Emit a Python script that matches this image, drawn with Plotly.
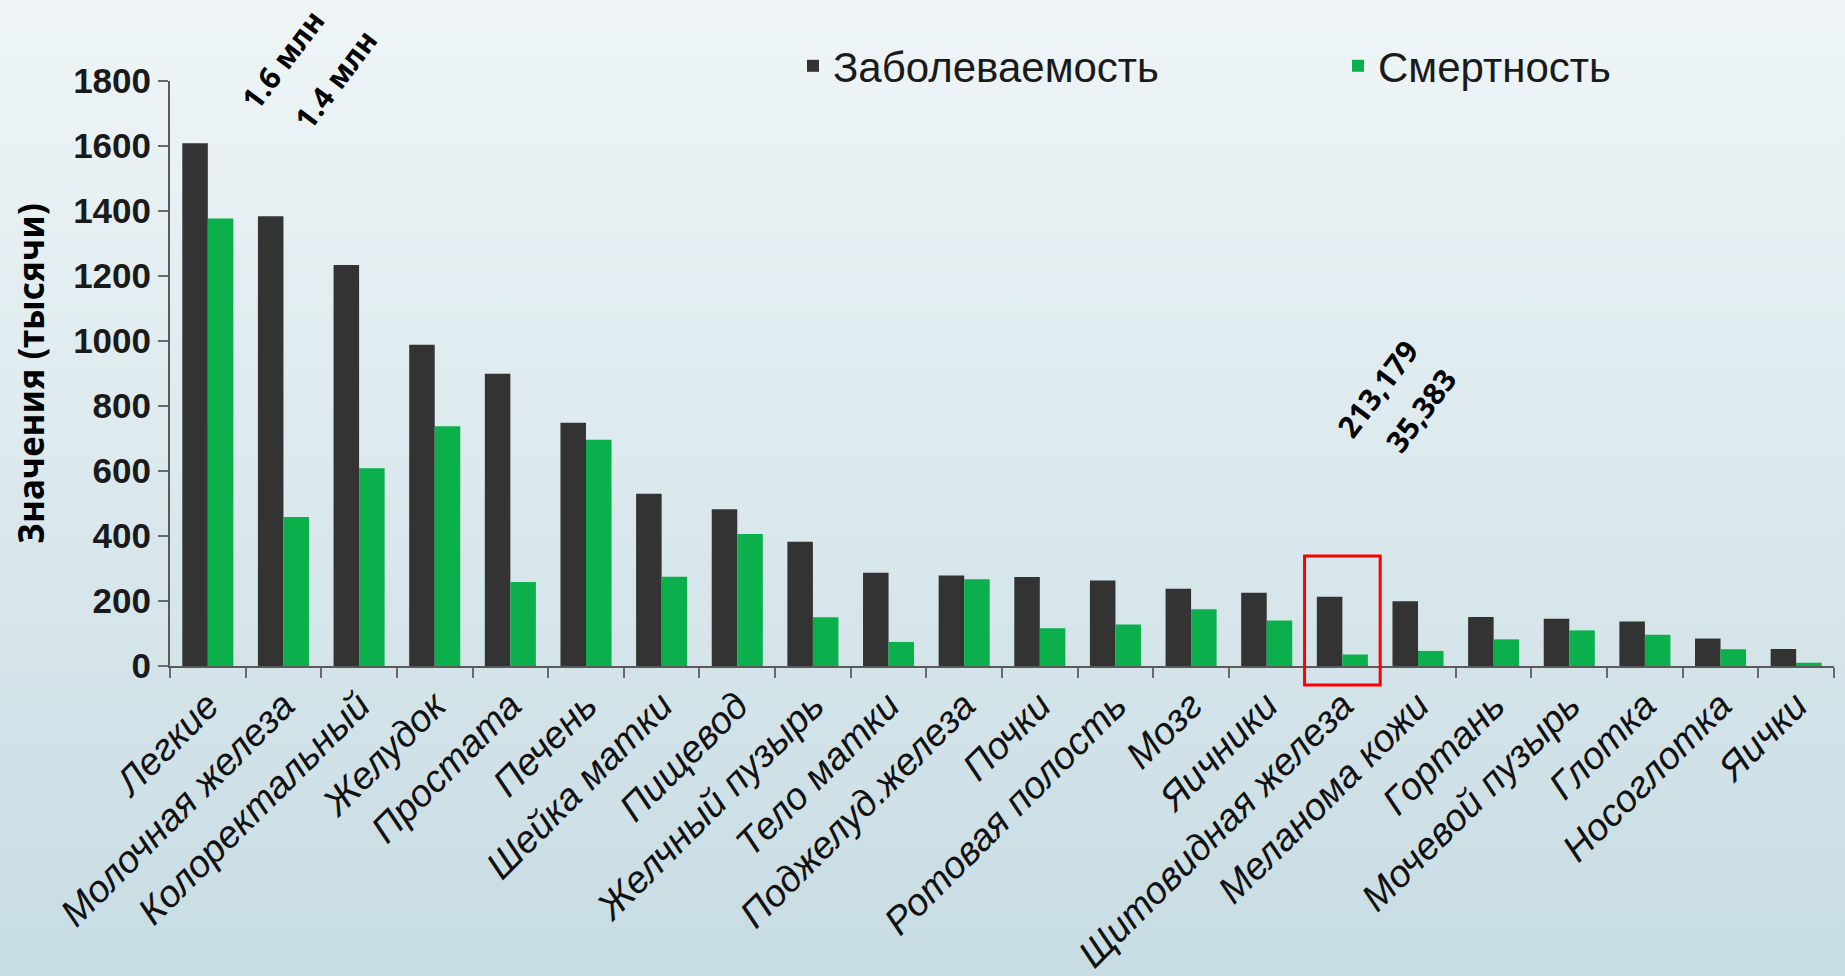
import base64
import plotly.graph_objects as go

# Cancer sites and global estimates, thousands of cases
sites = [
    "Легкие", "Молочная железа", "Колоректальный", "Желудок", "Простата",
    "Печень", "Шейка матки", "Пищевод", "Желчный пузырь", "Тело матки",
    "Поджелуд.железа", "Почки", "Ротовая полость", "Мозг", "Яичники",
    "Щитовидная железа", "Меланома кожи", "Гортань", "Мочевой пузырь",
    "Глотка", "Носоглотка", "Яички",
]
incidence = [
    1608.1, 1384.2, 1233.7, 988.6, 899.1,
    748.3, 530.2, 482.3, 382.0, 287.1,
    278.7, 273.5, 263.0, 237.9, 225.5,
    213.179, 199.6, 150.7, 145.2,
    136.6, 84.4, 52.3,
]
mortality = [
    1376.6, 458.5, 608.6, 737.4, 258.1,
    695.9, 275.0, 406.5, 150.3, 74.0,
    266.7, 116.4, 127.7, 174.9, 140.2,
    35.383, 46.4, 81.9, 109.6,
    96.1, 51.6, 9.9,
]
y_ticks = [0, 200, 400, 600, 800, 1000, 1200, 1400, 1600, 1800]

DARK = "#333333"
GREEN = "#0bb04c"

# page geometry (px)
W, H = 1845, 976
ML, MR, MT, MB = 170, 11, 81, 310
PW, PH = W - ML - MR, H - MT - MB
Y_MAX = 1800


def py(px_from_top):
    """Paper y for a pixel row measured from the top of the page."""
    return (H - MB - px_from_top) / PH


fig = go.Figure()
fig.add_trace(go.Bar(name="Заболеваемость", x=sites, y=incidence,
                     marker=dict(color=DARK, line=dict(width=0))))
fig.add_trace(go.Bar(name="Смертность", x=sites, y=mortality,
                     marker=dict(color=GREEN, line=dict(width=0))))

# vertical gradient background
svg = (
    '<svg xmlns="http://www.w3.org/2000/svg" width="100" height="100" preserveAspectRatio="none">'
    '<defs><linearGradient id="g" x1="0" y1="0" x2="0" y2="1">'
    '<stop offset="0" stop-color="#eff5f7"/>'
    '<stop offset="1" stop-color="#c7dce3"/>'
    '</linearGradient></defs>'
    '<rect width="100" height="100" fill="url(#g)"/></svg>'
)
bg_uri = "data:image/svg+xml;base64," + base64.b64encode(svg.encode()).decode()
fig.add_layout_image(
    source=bg_uri, xref="paper", yref="paper",
    x=-ML / PW, y=1 + MT / PH, sizex=W / PW, sizey=H / PH,
    xanchor="left", yanchor="top", sizing="stretch", layer="below",
)

# value callouts
lung_i, lung_m = incidence[0], mortality[0]
thy = sites.index("Щитовидная железа")
callout_font = dict(family="Noto Sans, Open Sans, sans-serif", size=30, color="#000000", weight="bold")
callouts = [
    (0.99, py(60), f"{lung_i / 1000:.1f} млн"),
    (1.68, py(79), f"{lung_m / 1000:.1f} млн"),
    (thy + 0.46, py(388), f"{incidence[thy]:.3f}".replace(".", ",")),
    (thy + 1.03, py(410), f"{mortality[thy]:.3f}".replace(".", ",")),
]
for cx, cy, txt in callouts:
    fig.add_annotation(x=cx, y=cy, xref="x", yref="paper", text=txt, showarrow=False,
                       textangle=-53, font=callout_font, xanchor="center", yanchor="middle")

# highlight box around the thyroid group
fig.add_shape(type="rect", xref="x", yref="paper",
              x0=thy - 0.5, x1=thy + 0.5, y0=py(685), y1=py(556),
              line=dict(color="#ff0000", width=3), fillcolor="rgba(0,0,0,0)")

fig.update_layout(
    width=W, height=H,
    margin=dict(l=ML, r=MR, t=MT, b=MB, pad=0, autoexpand=False),
    paper_bgcolor="#dbe8ec", plot_bgcolor="rgba(0,0,0,0)",
    barmode="group", bargap=0.325, bargroupgap=0,
    showlegend=True,
    legend=dict(orientation="h", x=(793 - ML) / PW, y=py(66),
                xanchor="left", yanchor="middle",
                font=dict(family="Liberation Sans, Arial, sans-serif", size=42, color="#1a1a1a"),
                bgcolor="rgba(0,0,0,0)", itemwidth=30, entrywidth=500, entrywidthmode="pixels",
                traceorder="normal"),
    xaxis=dict(
        type="category", range=[-0.5, len(sites) - 0.5],
        showline=True, linecolor="#5a5a5a", linewidth=2,
        ticks="outside", tickson="boundaries", ticklen=10, tickwidth=2, tickcolor="#6a6a6a",
        tickangle=-45,
        tickfont=dict(family="Liberation Sans, Arial, sans-serif", size=38, color="#111111", style="italic"),
        showgrid=False, zeroline=False,
    ),
    yaxis=dict(
        range=[0, Y_MAX], tickmode="array", tickvals=y_ticks,
        showline=True, linecolor="#5a5a5a", linewidth=2,
        ticks="outside", ticklen=10, tickwidth=2, tickcolor="#6a6a6a",
        tickfont=dict(family="Liberation Sans, Arial, sans-serif", size=35, color="#1a1a1a", weight="bold"),
        showgrid=False, zeroline=False,
        title=dict(text="Значения (тысячи)", standoff=18,
                   font=dict(family="Noto Sans, Open Sans, sans-serif", size=35, color="#000000", weight="bold")),
    ),
)

fig.write_html("out.html")
